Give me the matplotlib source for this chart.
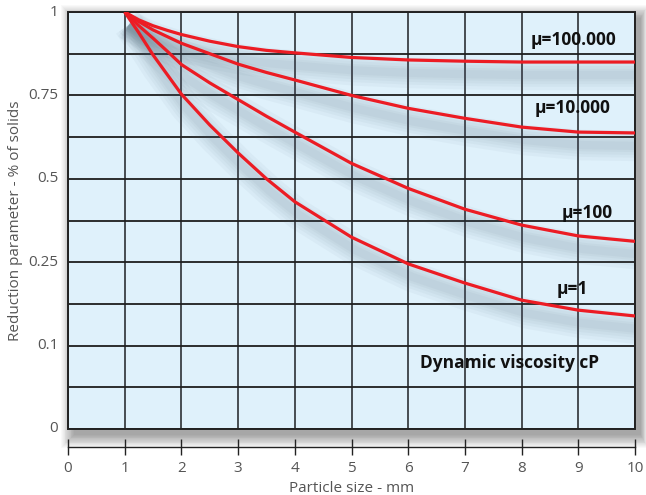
import matplotlib
matplotlib.use("Agg")
import matplotlib.pyplot as plt
import matplotlib.transforms as mtransforms
from matplotlib.patches import Rectangle

plt.rcParams['font.family'] = ['Open Sans', 'DejaVu Sans']

# particle size (mm)
size_mm = [1, 1.25, 1.5, 1.75, 2, 2.5, 3, 3.5, 4, 5, 6, 7, 8, 9, 10]
# curve values in grid units (0..10 rows, labelled with the non-linear scale below)
mu_100000 = [10, 9.81, 9.67, 9.56, 9.46, 9.30, 9.17, 9.08, 9.02, 8.91, 8.85, 8.82, 8.80, 8.80, 8.80]
mu_10000 = [10, 9.77, 9.57, 9.41, 9.25, 9.00, 8.75, 8.55, 8.37, 8.00, 7.69, 7.45, 7.24, 7.12, 7.10]
mu_100 = [10, 9.67, 9.37, 9.06, 8.74, 8.30, 7.90, 7.50, 7.12, 6.37, 5.77, 5.27, 4.89, 4.63, 4.50]
mu_1 = [10, 9.50, 8.97, 8.50, 8.03, 7.29, 6.62, 6.00, 5.45, 4.60, 3.96, 3.50, 3.09, 2.85, 2.71]

curve_labels = ["μ=100.000", "μ=10.000", "μ=100", "μ=1"]
label_pos = [(8.91, 9.33), (8.90, 7.70), (9.15, 5.18), (8.89, 3.36)]

x_ticks = list(range(0, 11))
y_tick_pos = [0, 2, 4, 6, 8, 10]
y_tick_labels = ["0", "0.1", "0.25", "0.5", "0.75", "1"]

fig = plt.figure(figsize=(6.46, 4.95), dpi=100)
ax = fig.add_axes([68 / 646, 66 / 495, 567 / 646, 417 / 495])
ax.set_xlim(0, 10)
ax.set_ylim(0, 10)
ax.patch.set_visible(False)

# drop shadow of the plot area
tr = mtransforms.offset_copy(ax.transData, fig, x=6, y=-6, units='dots')
for k in range(16):
    g = k * 0.02
    ax.add_patch(Rectangle((0 - g * 0.75, 0 - g), 10 + 1.5 * g * 0.75, 10 + 2 * g,
                           transform=tr, facecolor='#000000', alpha=0.022,
                           edgecolor='none', clip_on=False, zorder=0))

ax.add_patch(Rectangle((0, 0), 10, 10, facecolor='#dff1fb', edgecolor='none', zorder=1))

# grid
for gx in range(0, 11):
    ax.axvline(gx, color='#3a3f44', lw=1.3, zorder=2)
for gy in range(0, 11):
    ax.axhline(gy, color='#1e1e1e', lw=1.3, zorder=2)
ax.add_patch(Rectangle((0, 0), 10, 10, facecolor='none', edgecolor='#222222',
                       lw=1.4, zorder=3, clip_on=False))

series = [mu_100000, mu_10000, mu_100, mu_1]

# soft shadows under curves
shadow_tr = mtransforms.offset_copy(ax.transData, fig, x=4, y=-13, units='dots')
for ys in series:
    for w in [22, 17, 13, 9, 6]:
        ax.plot(size_mm, ys, color='#4a6272', lw=w, alpha=0.045,
                solid_capstyle='butt', solid_joinstyle='round',
                transform=shadow_tr, zorder=2.5)

for ys in series:
    ax.plot(size_mm, ys, color='#ec1c24', lw=2.3, zorder=4,
            solid_capstyle='butt', solid_joinstyle='round')

for txt, (tx, ty) in zip(curve_labels, label_pos):
    ax.text(tx, ty, txt, ha='center', va='center', fontsize=12.5,
            fontweight='bold', color='#111111', zorder=5)
ax.text(7.78, 1.58, "Dynamic viscosity cP", ha='center', va='center', fontsize=12.5,
        fontweight='bold', color='#111111', zorder=5)

# axes styling
for s in ['top', 'right', 'left']:
    ax.spines[s].set_visible(False)
ax.spines['bottom'].set_position(('outward', 13))
ax.spines['bottom'].set_color('#222222')
ax.spines['bottom'].set_linewidth(1.0)
ax.spines['bottom'].set_zorder(0.5)

ax.set_xticks(x_ticks)
ax.set_xticklabels([str(v) for v in x_ticks])
ax.tick_params(axis='x', direction='inout', length=12, width=1.0, color='#222222',
               labelsize=11, labelcolor='#555555', pad=4)
ax.set_yticks(y_tick_pos)
ax.set_yticklabels(y_tick_labels)
ax.tick_params(axis='y', length=0, labelsize=11, labelcolor='#555555', pad=7)
for lbl in ax.get_yticklabels():
    lbl.set_va('center')

ax.set_xlabel("Particle size - mm", fontsize=11, color='#555555', labelpad=4)
ax.set_ylabel("Reduction parameter - % of solids", fontsize=11, color='#555555', labelpad=4)

fig.savefig("out.png", dpi=100)
